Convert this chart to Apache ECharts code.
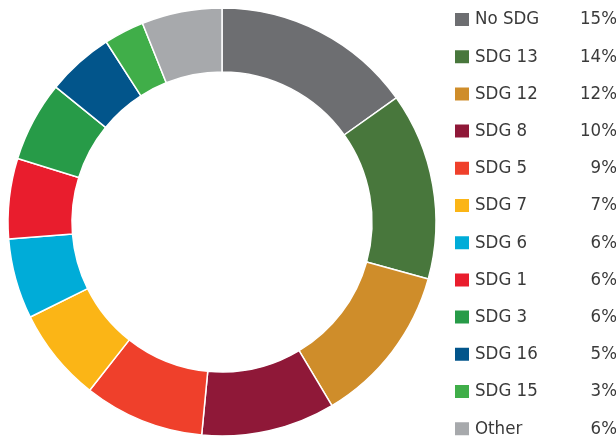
<!DOCTYPE html>
<html>
<head>
<meta charset="utf-8">
<script src="https://cdn.jsdelivr.net/npm/echarts@6/dist/echarts.min.js"></script>
<style>
  html, body { margin: 0; padding: 0; background: #fff; }
  #chart { width: 616px; height: 439px; }
</style>
</head>
<body>
<div id="chart"></div>
<script>
const names = ['No SDG', 'SDG 13', 'SDG 12', 'SDG 8', 'SDG 5', 'SDG 7', 'SDG 6', 'SDG 1', 'SDG 3', 'SDG 16', 'SDG 15', 'Other']
const shares = [15, 14, 12, 10, 9, 7, 6, 6, 6, 5, 3, 6]
const colors = ['#6d6e71', '#48773c', '#cf8d2a', '#8f1838', '#ef402b', '#fbb516', '#00acd8', '#e91d2d', '#279b48', '#02558b', '#40ae49', '#a7a9ac']

const font = '"DejaVu Sans Condensed", sans-serif'

const chart = echarts.init(document.getElementById('chart'))
chart.setOption({
  animation: false,
  color: colors,
  legend: {
    orient: 'vertical',
    left: 453,
    top: 10,
    height: 470,
    padding: 0,
    itemWidth: 16,
    itemHeight: 15,
    itemGap: 18.2,
    icon: 'rect',
    formatter: function (name) {
      const i = names.indexOf(name)
      return '{n|' + name + '}{p|' + shares[i] + '%}'
    },
    textStyle: {
      color: '#3a3a3a',
      fontFamily: font,
      fontSize: 18.5,
      rich: {
        n: { width: 101, fontSize: 18.5, fontFamily: font, color: '#3a3a3a' },
        p: { width: 41, align: 'right', fontSize: 18.5, fontFamily: font, color: '#3a3a3a' }
      }
    },
    data: names
  },
  series: [{
    type: 'pie',
    center: [222, 222],
    radius: [150, 214],
    startAngle: 90,
    clockwise: true,
    label: { show: false },
    labelLine: { show: false },
    itemStyle: { borderColor: '#fff', borderWidth: 1.5 },
    data: names.map((n, i) => ({ name: n, value: shares[i] }))
  }]
})
</script>
</body>
</html>
